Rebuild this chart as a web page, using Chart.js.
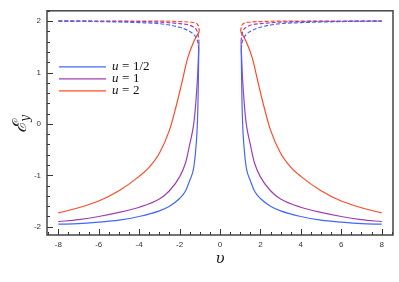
<!DOCTYPE html>
<html>
<head>
<meta charset="utf-8">
<script src="https://cdn.jsdelivr.net/npm/chart.js@4"></script>
<style>
  body { margin: 0; background: #fff; }
  canvas { display: block; }
</style>
</head>
<body>
<canvas id="grafico" width="399" height="282"></canvas>
<script>
// values, |v| side (curves are mirrored about v = 0)
const vBlue = [1.05, 1.08, 1.12, 1.18, 1.3, 1.5, 1.7, 2, 2.5, 3, 4, 5, 6, 7, 8];
const eBlue = [1.45, 0.6, 0.0, -0.4, -0.85, -1.1, -1.3, -1.45, -1.6, -1.69, -1.8, -1.87, -1.91, -1.94, -1.95];
const vPurple = [1.04, 1.1, 1.2, 1.3, 1.5, 1.7, 2, 2.5, 3, 4, 5, 6, 7, 8];
const ePurple = [1.6, 1.0, 0.4, 0.0, -0.4, -0.75, -1.03, -1.3, -1.46, -1.62, -1.72, -1.8, -1.86, -1.9];
const vRed = [1.02, 1.3, 1.6, 1.9, 2.2, 2.5, 3, 3.5, 4, 5, 6, 7, 8];
const eRed = [1.8, 1.6, 1.28, 0.78, 0.3, -0.12, -0.57, -0.84, -1.02, -1.3, -1.5, -1.63, -1.73];

const vBlueDash = [1.05, 1.08, 1.15, 1.3, 1.5, 2, 3, 4, 6, 8];
const eBlueDash = [1.45, 1.56, 1.65, 1.74, 1.8, 1.88, 1.95, 1.97, 1.99, 2.0];
const vPurpleDash = [1.04, 1.07, 1.15, 1.3, 1.5, 2, 3, 4, 8];
const ePurpleDash = [1.6, 1.71, 1.82, 1.88, 1.92, 1.95, 1.98, 1.99, 2.0];
const vRedDash = [1.02, 1.05, 1.1, 1.2, 1.5, 2, 3, 8];
const eRedDash = [1.8, 1.88, 1.93, 1.96, 1.98, 1.99, 2.0, 2.0];

const labels = ['1/2', '1', '2'];
const colors = ['#4466ff', '#a040b0', '#ff4a28'];
const xTicks = [-8, -6, -4, -2, 0, 2, 4, 6, 8];
const yTicks = [-2, -1, 0, 1, 2];

// one branch of a curve: sign = -1 for v < 0, +1 for v > 0
function ramo(vs, es, sign) {
  const pts = vs.map((v, i) => ({ x: sign * v, y: es[i] }));
  return sign < 0 ? pts.reverse() : pts;
}

function series(vs, es, cor, tracejado) {
  return [-1, 1].map(sign => ({
    data: ramo(vs, es, sign),
    borderColor: cor,
    borderWidth: 1.2,
    borderDash: tracejado ? [4, 2] : [],
    pointRadius: 0,
    cubicInterpolationMode: 'monotone',
    fill: false
  }));
}

const datasets = [
  ...series(vBlueDash, eBlueDash, colors[0], true),
  ...series(vPurpleDash, ePurpleDash, colors[1], true),
  ...series(vRedDash, eRedDash, colors[2], true),
  ...series(vBlue, eBlue, colors[0], false),
  ...series(vPurple, ePurple, colors[1], false),
  ...series(vRed, eRed, colors[2], false)
];

// frame, inward ticks, axis titles and legend
const moldura = {
  id: 'moldura',
  afterDraw(chart) {
    const ctx = chart.ctx;
    const a = chart.chartArea;
    const sx = chart.scales.x;
    const sy = chart.scales.y;
    ctx.save();
    ctx.strokeStyle = '#333';
    ctx.lineWidth = 1;
    for (let i = -18; i <= 18; i++) {
      const v = i * 0.5;
      if (v < sx.min || v > sx.max) continue;
      const px = Math.round(sx.getPixelForValue(v)) + 0.5;
      const len = (i % 4 === 0) ? 6 : 3;
      ctx.beginPath();
      ctx.moveTo(px, a.bottom);
      ctx.lineTo(px, a.bottom - len);
      ctx.stroke();
    }
    for (let i = -11; i <= 11; i++) {
      const v = i * 0.2;
      if (v < sy.min || v > sy.max) continue;
      const py = Math.round(sy.getPixelForValue(v)) + 0.5;
      const len = (i % 5 === 0) ? 6 : 3;
      ctx.beginPath();
      ctx.moveTo(a.left, py);
      ctx.lineTo(a.left + len, py);
      ctx.stroke();
    }
    ctx.strokeStyle = '#444';
    ctx.lineWidth = 1.5;
    ctx.strokeRect(a.left, a.top, a.right - a.left, a.bottom - a.top);

    // x title
    ctx.fillStyle = '#222';
    ctx.font = 'italic 15px "DejaVu Serif", serif';
    ctx.textAlign = 'center';
    ctx.textBaseline = 'alphabetic';
    ctx.fillText('\u03C5', sx.getPixelForValue(0), 263);

    // y title, rotated
    ctx.save();
    ctx.translate(26, sy.getPixelForValue(0));
    ctx.rotate(-Math.PI / 2);
    ctx.textAlign = 'left';
    ctx.font = 'italic 19px "DejaVu Serif", serif';
    const wE = ctx.measureText('\u2130').width;
    ctx.font = 'italic 12px "DejaVu Serif", serif';
    const wY = ctx.measureText('y').width;
    const x0 = -(wE + wY) / 2;
    ctx.font = 'italic 19px "DejaVu Serif", serif';
    ctx.fillText('\u2130', x0, 0);
    ctx.font = 'italic 12px "DejaVu Serif", serif';
    ctx.fillText('y', x0 + wE, 3);
    ctx.restore();

    // legend
    ctx.textBaseline = 'middle';
    ctx.textAlign = 'left';
    for (let i = 0; i < labels.length; i++) {
      const y = a.top + 56 + i * 12;
      ctx.strokeStyle = colors[i];
      ctx.lineWidth = 1.3;
      ctx.beginPath();
      ctx.moveTo(a.left + 12, y);
      ctx.lineTo(a.left + 59, y);
      ctx.stroke();
      ctx.fillStyle = '#111';
      const tx = a.left + 65;
      ctx.font = 'italic 13px "Liberation Serif", serif';
      ctx.fillText('u', tx, y);
      ctx.font = '13px "Liberation Serif", serif';
      ctx.fillText('=', tx + 10, y);
      ctx.fillText(labels[i], tx + 21, y);
    }
    ctx.restore();
  }
};

const config = {
  type: 'line',
  data: { datasets: datasets },
  options: {
    animation: false,
    responsive: false,
    devicePixelRatio: 1,
    layout: { padding: { left: 0, top: 6, right: 6, bottom: 0 } },
    scales: {
      x: {
        type: 'linear',
        min: -8.56,
        max: 8.56,
        afterBuildTicks: s => { s.ticks = xTicks.map(v => ({ value: v })); },
        afterFit: s => { s.height = 47; },
        grid: { display: false, drawTicks: false },
        border: { display: false },
        ticks: {
          padding: 5,
          color: '#333',
          font: { family: '"Liberation Sans", sans-serif', size: 8 },
          maxRotation: 0
        }
      },
      y: {
        type: 'linear',
        min: -2.16,
        max: 2.2,
        afterBuildTicks: s => { s.ticks = yTicks.map(v => ({ value: v })); },
        afterFit: s => { s.width = 47; },
        grid: { display: false, drawTicks: false },
        border: { display: false },
        ticks: {
          padding: 6,
          color: '#333',
          font: { family: '"Liberation Sans", sans-serif', size: 8 }
        }
      }
    },
    plugins: {
      legend: { display: false },
      tooltip: { enabled: false }
    }
  },
  plugins: [moldura]
};

const grafico = new Chart(document.getElementById('grafico').getContext('2d'), config);
</script>
</body>
</html>
